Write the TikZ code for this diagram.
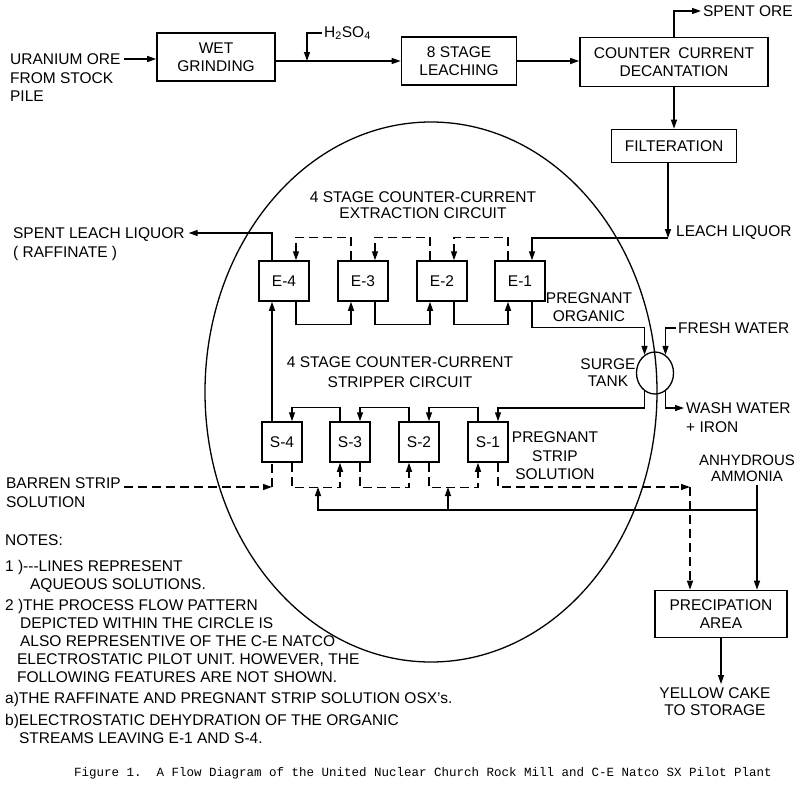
\documentclass[tikz,border=0pt]{standalone}
\usepackage{fontspec}
\setmainfont{Liberation Sans}
\newfontfamily\captionfont{Liberation Mono}
\usetikzlibrary{arrows.meta,calc,shapes.geometric}
\tikzset{>/.tip={Triangle[length=9pt,width=6pt]},
  procbox/.style={draw,line width=1.6pt,align=center,inner sep=1pt},
  stagebox/.style={draw,line width=1.5pt,minimum height=40,inner sep=0pt},
  tag/.style={align=left,inner sep=1.5pt,anchor=north west},
  aqueous/.style={dash pattern=on 9pt off 5pt}}

\begin{document}
\begin{tikzpicture}[x=1pt,y=-1pt,line width=1.3pt,font=\fontsize{15.5}{18.5}\selectfont]
\useasboundingbox (0,0) rectangle (800,790);
\draw (431,392) ellipse [x radius=226,y radius=270];

\node[tag] (ore) at (8,52) {URANIUM ORE\\FROM STOCK\\PILE};
\node[procbox,minimum width=118,minimum height=48] (grind) at (216,57) {WET\\GRINDING};
\node[anchor=west,inner sep=1.5pt] (acid) at (322,33) {H\textsubscript{2}SO\textsubscript{4}};
\node[procbox,minimum width=115,minimum height=48] (leach) at (459,61) {8 STAGE\\LEACHING};
\node[procbox,minimum width=188,minimum height=49] (ccd) at (674,62) {COUNTER\enspace CURRENT\\DECANTATION};
\node[anchor=west,inner sep=1.5pt] (spentore) at (701,11) {SPENT ORE};
\node[procbox,minimum width=125,minimum height=33] (filt) at (674,146) {FILTERATION};
\node[anchor=west,inner sep=1.5pt] (liquor) at (674,233) {LEACH LIQUOR};
\node[tag] (raff) at (11,226) {SPENT LEACH LIQUOR\\( RAFFINATE )};

\node[align=center,font=\fontsize{15.5}{16.5}\selectfont] (ext-title) at (423,205) {4 STAGE COUNTER-CURRENT\\EXTRACTION CIRCUIT};
\node[stagebox,minimum width=50] (E-4) at (284,281) {E-4};
\node[stagebox,minimum width=50] (E-3) at (363,281) {E-3};
\node[stagebox,minimum width=50] (E-2) at (442,281) {E-2};
\node[stagebox,minimum width=50] (E-1) at (520,281) {E-1};
\node[align=center] (preg-org) at (589,307) {PREGNANT\\ORGANIC};

\node[draw,ellipse,minimum width=37,minimum height=42,inner sep=0pt] (tank) at (655,373) {};
\node[align=center,font=\fontsize{15.5}{17}\selectfont] (tank-lbl) at (608,373) {SURGE\\TANK};
\node[anchor=west,inner sep=1.5pt] (fresh) at (676,328) {FRESH WATER};
\node[tag] (wash) at (684,401) {WASH WATER\\+ IRON};

\node[align=center,font=\fontsize{15.5}{20}\selectfont] (strip-title) at (400,372) {4 STAGE COUNTER-CURRENT\\STRIPPER CIRCUIT};
\node[stagebox,minimum width=40] (S-4) at (282,442) {S-4};
\node[stagebox,minimum width=40] (S-3) at (350,442) {S-3};
\node[stagebox,minimum width=40] (S-2) at (419,442) {S-2};
\node[stagebox,minimum width=40] (S-1) at (488,442) {S-1};
\node[align=center] (preg-strip) at (555,456) {PREGNANT\\STRIP\\SOLUTION};
\node[tag] (barren) at (4,476) {BARREN STRIP\\SOLUTION};
\node[align=center,font=\fontsize{15}{16}\selectfont] (ammonia) at (747,468) {ANHYDROUS\\AMMONIA};

\node[procbox,minimum width=132,minimum height=47] (precip) at (721,614) {PRECIPATION\\AREA};
\node[align=center,font=\fontsize{15.5}{17}\selectfont] (cake) at (715,702) {YELLOW CAKE\\TO STORAGE};

\node[tag,font=\fontsize{15.5}{18}\selectfont] (notes) at (3,533) {NOTES:\\[8pt]
1 )-{}-{}-LINES REPRESENT\\
\hspace*{25pt}AQUEOUS SOLUTIONS.\\[3pt]
2 )THE PROCESS FLOW PATTERN\\
\hspace*{15pt}DEPICTED WITHIN THE CIRCLE IS\\
\hspace*{15pt}ALSO REPRESENTIVE OF THE C-E NATCO\\
\hspace*{12pt}ELECTROSTATIC PILOT UNIT. HOWEVER, THE\\
\hspace*{12pt}FOLLOWING FEATURES ARE NOT SHOWN.\\[3pt]
a)THE RAFFINATE AND PREGNANT STRIP SOLUTION OSX's.\\[4pt]
b)ELECTROSTATIC DEHYDRATION OF THE ORGANIC\\
\hspace*{14pt}STREAMS LEAVING E-1 AND S-4.};

\node[font=\captionfont\fontsize{12.5}{14}\selectfont] (caption) at (423,773) {Figure 1.\ \ A Flow Diagram of the United Nuclear Church Rock Mill and C-E Natco SX Pilot Plant};

\coordinate (ore-out) at ($(ore.north east)+(1,7)$);
\coordinate (acid-in) at (307,61);
\coordinate (liq-bend) at (668,238);
\coordinate (raff-in) at ($(raff.north east)+(2,7)$);
\coordinate (wash-in) at ($(wash.north west)+(0,7)$);
\coordinate (barren-out) at ($(barren.north east)+(1,11)$);
\coordinate (barren-bend) at (272,487);
\coordinate (strip-bend) at (690,487);
\coordinate (amm-tap) at (757,510);
\coordinate (mix-1) at (318,487);
\coordinate (mix-2) at (448,487);

\draw[->] (ore-out) -- (ore-out -| grind.west);
\draw[->] (grind.east |- leach.west) -- (leach.west);
\draw[->] (acid.west) -| (acid-in);
\draw[->] (leach.east) -- (leach.east -| ccd.west);
\draw[->] (ccd.north) |- (spentore.west);
\draw[->] (ccd.south) -- (filt.north);
\draw[->] (liq-bend |- filt.south) -- (liq-bend);
\draw[->] (liq-bend) -| ([xshift=12pt]E-1.north);

\draw[aqueous,->] ([xshift=-12pt]E-1.north) -- ++(0,-23) -| ([xshift=12pt]E-2.north);
\draw[aqueous,->] ([xshift=-12pt]E-2.north) -- ++(0,-23) -| ([xshift=12pt]E-3.north);
\draw[aqueous,->] ([xshift=-12pt]E-3.north) -- ++(0,-23) -| ([xshift=12pt]E-4.north);
\draw[->] ([xshift=-12pt]E-4.north) |- (raff-in);

\draw[->] ([xshift=12pt]E-4.south) -- ++(0,23) -| ([xshift=-12pt]E-3.south);
\draw[->] ([xshift=12pt]E-3.south) -- ++(0,23) -| ([xshift=-12pt]E-2.south);
\draw[->] ([xshift=12pt]E-2.south) -- ++(0,23) -| ([xshift=-12pt]E-1.south);
\draw[->] ([xshift=12pt]E-1.south) -- ++(0,26) -| (tank.120);

\draw[->] (fresh.west) -| (tank.60);
\draw[->] (tank.300) |- (wash-in);
\draw[->] (tank.240) -- ++(0,17) -| ([xshift=10pt]S-1.north);

\draw[->] ([xshift=-10pt]S-1.north) -- ++(0,-14) -| ([xshift=10pt]S-2.north);
\draw[->] ([xshift=-10pt]S-2.north) -- ++(0,-14) -| ([xshift=10pt]S-3.north);
\draw[->] ([xshift=-10pt]S-3.north) -- ++(0,-14) -| ([xshift=10pt]S-4.north);
\draw[->] ([xshift=-10pt]S-4.north) -- ([xshift=-12pt]E-4.south);

\draw[aqueous,->] (barren-out) -- (barren-bend);
\draw[aqueous] (barren-bend) -- ([xshift=-10pt]S-4.south);
\draw[aqueous,->] ([xshift=10pt]S-4.south) -- ++(0,25) -| ([xshift=-10pt]S-3.south);
\draw[aqueous,->] ([xshift=10pt]S-3.south) -- ++(0,25) -| ([xshift=-10pt]S-2.south);
\draw[aqueous,->] ([xshift=10pt]S-2.south) -- ++(0,25) -| ([xshift=-10pt]S-1.south);
\draw[aqueous,->] ([xshift=10pt]S-1.south) |- (strip-bend);
\draw[aqueous,->] (strip-bend) -- (strip-bend |- precip.north);

\draw[->] (amm-tap |- ammonia.south) -- (amm-tap |- precip.north);
\draw[->] (amm-tap) -| (mix-1);
\draw[->] (mix-2 |- amm-tap) -- (mix-2);
\draw[->] (precip.south) -- (precip.south |- cake.north);
\end{tikzpicture}
\end{document}
